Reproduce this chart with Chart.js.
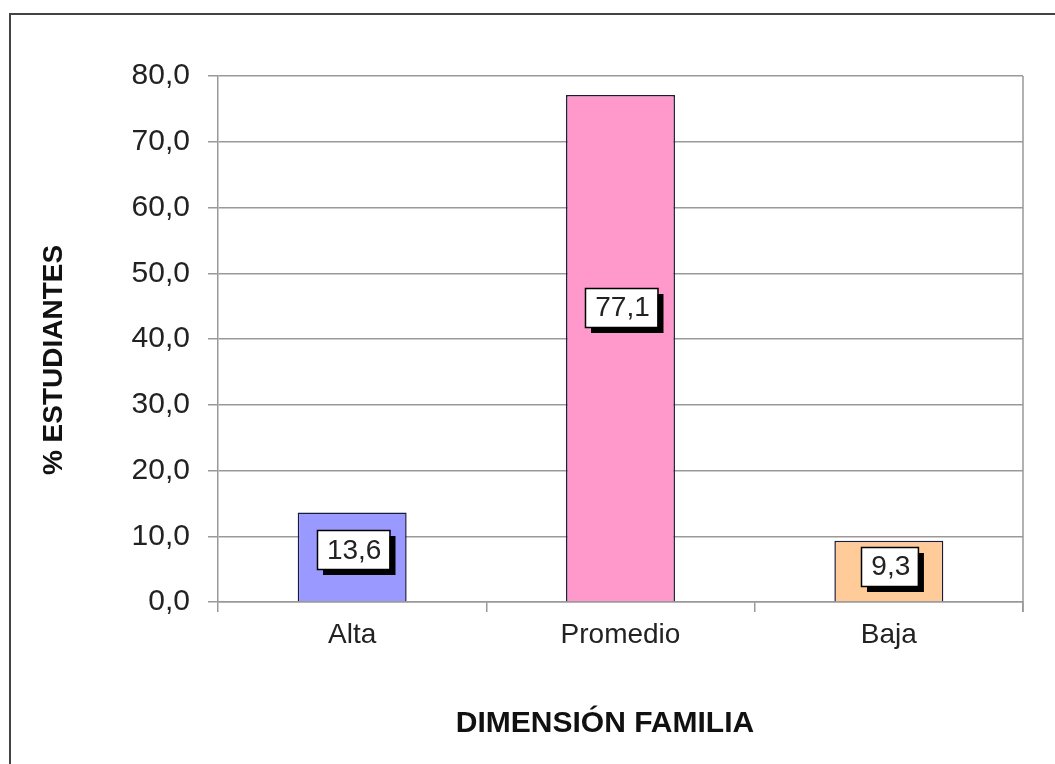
<!DOCTYPE html>
<html>
<head>
<meta charset="utf-8">
<script src="https://cdn.jsdelivr.net/npm/chart.js@4/dist/chart.umd.min.js"></script>
<style>
  html, body { margin: 0; padding: 0; background: #fff; overflow: hidden; }
  #wrap { position: relative; width: 1055px; height: 764px; }
  #frame { position: absolute; left: 9px; top: 13px; width: 2000px; height: 2000px;
           border-left: 2px solid #444; border-top: 2px solid #444; pointer-events: none; }
</style>
</head>
<body>
<div id="wrap">
  <canvas id="chart" width="1055" height="764"></canvas>
  <div id="frame"></div>
</div>
<script>
const categories = ["Alta", "Promedio", "Baja"];
const values = [13.6, 77.1, 9.3];
const barColors = ["#9999FF", "#FF99CC", "#FFCC99"];
const yTitle = "% ESTUDIANTES";
const xTitle = "DIMENSIÓN FAMILIA";

const FONT = "'Liberation Sans', Arial, sans-serif";

// boxed value labels with a black drop shadow, like the Excel original
const boxLabels = {
  id: "boxLabels",
  afterDatasetsDraw(chart) {
    const ctx = chart.ctx;
    const meta = chart.getDatasetMeta(0);
    ctx.save();
    ctx.font = "28px " + FONT;
    ctx.textAlign = "center";
    ctx.textBaseline = "middle";
    meta.data.forEach((bar, i) => {
      const txt = values[i].toFixed(1).replace(".", ",");
      const w = ctx.measureText(txt).width + 18;
      const h = 39;
      const cx = bar.x + 1;
      const cy = bar.y + (bar.base - bar.y) * 0.42;
      const x = Math.round(cx - w / 2), y = Math.round(cy - h / 2);
      ctx.fillStyle = "#000";
      ctx.fillRect(x + 6, y + 6, w, h);
      ctx.fillStyle = "#fff";
      ctx.fillRect(x, y, w, h);
      ctx.strokeStyle = "#000";
      ctx.lineWidth = 1.5;
      ctx.strokeRect(x + 0.5, y + 0.5, w, h);
      ctx.fillStyle = "#222";
      ctx.fillText(txt, cx + 1, cy + 1);
    });
    ctx.restore();
  }
};

// axis titles and the right edge of the plot box
const extras = {
  id: "extras",
  afterDraw(chart) {
    const ctx = chart.ctx;
    const a = chart.chartArea;
    ctx.save();
    ctx.strokeStyle = "#999";
    ctx.lineWidth = 1.5;
    ctx.beginPath();
    ctx.moveTo(a.right, a.top);
    ctx.lineTo(a.right, a.bottom + 10);
    ctx.stroke();

    ctx.fillStyle = "#111";
    ctx.textAlign = "center";
    ctx.textBaseline = "middle";
    ctx.font = "bold 30px " + FONT;
    ctx.fillText(xTitle, 605, 724);
    ctx.translate(54, 360);
    ctx.rotate(-Math.PI / 2);
    ctx.font = "bold 28px " + FONT;
    ctx.fillText(yTitle, 0, 0);
    ctx.restore();
  }
};

new Chart(document.getElementById("chart"), {
  type: "bar",
  data: {
    labels: categories,
    datasets: [{
      data: values,
      backgroundColor: barColors,
      borderColor: "#1a1a3a",
      borderWidth: 1.5,
      barPercentage: 0.406,
      categoryPercentage: 1
    }]
  },
  options: {
    responsive: false,
    animation: false,
    layout: { padding: { top: 76, right: 32, left: 0, bottom: 0 } },
    plugins: { legend: { display: false }, tooltip: { enabled: false } },
    scales: {
      x: {
        afterFit: (s) => { s.height = 162; },
        grid: {
          offset: true,
          drawOnChartArea: false,
          drawTicks: true,
          tickLength: 10,
          color: "#999",
          lineWidth: 1.5
        },
        border: { color: "#999", width: 1.5 },
        ticks: { color: "#222", padding: 6, font: { family: FONT, size: 28 } }
      },
      y: {
        min: 0,
        max: 80,
        afterFit: (s) => { s.width = 218; },
        grid: { color: "#999", lineWidth: 1.5, tickLength: 10 },
        border: { color: "#999", width: 1.5 },
        ticks: {
          stepSize: 10,
          padding: 18,
          color: "#222",
          font: { family: FONT, size: 30 },
          callback: (v) => v.toFixed(1).replace(".", ",")
        }
      }
    }
  },
  plugins: [boxLabels, extras]
});
</script>
</body>
</html>
